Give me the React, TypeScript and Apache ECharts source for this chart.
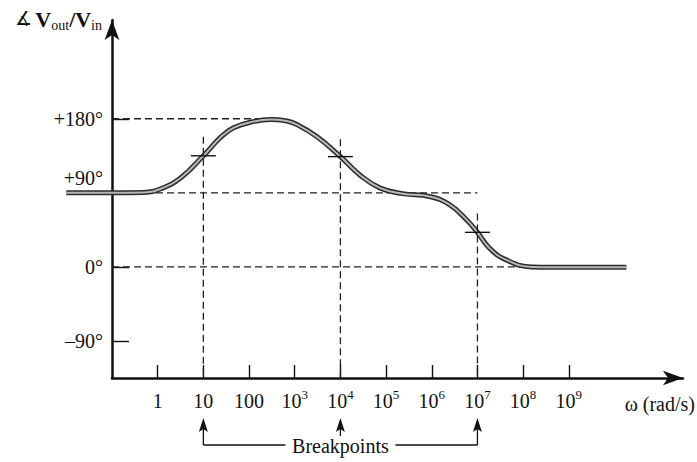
import React, { useEffect, useRef } from 'react';
import * as echarts from 'echarts';

// axis ranges (x = log10 of ω in rad/s, y = phase in degrees)
const X_MIN = -1;
const X_MAX = 11.5;
const Y_MIN = -135;
const Y_MAX = 300;

// phase curve
const phaseLog = [-2.0, -1.0, -0.3, 0.07, 0.5, 1.0, 1.37, 1.66, 2.09, 2.46, 2.8, 3.05, 3.49, 4.0, 4.42, 4.86, 5.36, 5.95, 6.38, 6.75, 7.0, 7.26, 7.63, 8.19, 9.0, 10.26];
const phaseDeg = [90, 90, 90.5, 95, 108, 135, 157, 169, 176.5, 179, 177.5, 173, 158, 134, 112, 96, 89, 85.5, 76, 58, 42, 23, 8.5, 0, -0.5, -0.5];

// x tick labels
const xTickLog = [0, 1, 2, 3, 4, 5, 6, 7, 8, 9];
const xTickBase = ['1', '10', '100', '10', '10', '10', '10', '10', '10', '10'];
const xTickExp = ['', '', '', '3', '4', '5', '6', '7', '8', '9'];

// y tick labels
const yTickDeg = [-90, 0, 90, 180];
const yTickText = ['–90°', '0°', '+90°', '+180°'];

// breakpoints
const bpLog = [1, 4, 7];
const bpCrossDeg = [135, 134, 42];
const bpGuideTopDeg = [158, 155, 65];

// horizontal dashed guides
const hGuideDeg = [180, 90, 0];
const hGuideEndLog = [2.5, 7, 8.5];

const SERIF = '"Liberation Serif", "Times New Roman", serif';
const INK = '#111';
const DASH = { stroke: '#222', lineWidth: 1.3, lineDash: [7, 4] };
const CURVE_OUTER = { color: '#2b2b2b', width: 5 };
const CURVE_INNER = { color: '#b8b8b8', width: 2 };

export default function App() {
  const ref = useRef<HTMLDivElement>(null);

  useEffect(() => {
    if (!ref.current) return;
    const chart = echarts.init(ref.current, null, { renderer: 'svg' });
    const all = phaseLog.map((l, i) => [l, phaseDeg[i]]);
    const inside = all.filter((p) => p[0] >= X_MIN);
    const outside = all.filter((p) => p[0] <= X_MIN);

    const lineSeries = (name: string, style: any, z: number) => ({
      type: 'line',
      name,
      data: inside,
      smooth: 0.45,
      showSymbol: false,
      clip: false,
      z,
      lineStyle: style,
    });

    const leftSeries = (name: string, style: any, z: number) => ({
      type: 'custom',
      name,
      clip: false,
      z,
      data: [0],
      renderItem: (params: any, api: any) => {
        const pts = outside.map((p) => api.coord(p));
        return {
          type: 'polyline',
          shape: { points: pts },
          style: { stroke: style.color, lineWidth: style.width, fill: 'none' },
        };
      },
    });

    const option: any = {
      animation: false,
      backgroundColor: '#ffffff',
      grid: { left: 112, right: 14, top: 20, bottom: 84, containLabel: false, outerBoundsMode: 'none' },
      xAxis: {
        type: 'value',
        min: X_MIN,
        max: X_MAX,
        splitLine: { show: false },
        axisLine: {
          onZero: false,
          lineStyle: { color: INK, width: 2.5 },
          symbol: ['none', 'arrow'],
          symbolSize: [11, 20],
        },
        axisTick: { customValues: xTickLog, inside: true, length: 13, lineStyle: { color: INK, width: 1.4 } },
        axisLabel: {
          customValues: xTickLog,
          margin: 11,
          color: INK,
          fontFamily: SERIF,
          fontSize: 20,
          formatter: (v: number) => {
            const i = xTickLog.indexOf(Math.round(v));
            if (i < 0) return '';
            return xTickExp[i] ? `{b|${xTickBase[i]}}{s|${xTickExp[i]}}` : `{b|${xTickBase[i]}}`;
          },
          rich: {
            b: { fontSize: 20, lineHeight: 22, verticalAlign: 'bottom', fontFamily: SERIF, color: INK },
            s: { fontSize: 13, lineHeight: 12, padding: [0, 0, 10, 0], verticalAlign: 'bottom', fontFamily: SERIF, color: INK },
          },
        },
        name: 'ω (rad/s)',
        nameLocation: 'end',
        nameGap: 12,
        nameMoveOverlap: false,
        nameTextStyle: { align: 'right', verticalAlign: 'top', padding: [16, 0, 0, 0], fontSize: 20, fontFamily: SERIF, color: INK, lineHeight: 20 },
      },
      yAxis: {
        type: 'value',
        min: Y_MIN,
        max: Y_MAX,
        splitLine: { show: false },
        axisLine: {
          onZero: false,
          lineStyle: { color: INK, width: 2.5 },
          symbol: ['none', 'arrow'],
          symbolSize: [11, 20],
        },
        axisTick: { customValues: yTickDeg, inside: true, length: 17, lineStyle: { color: INK, width: 1.4 } },
        axisLabel: {
          customValues: yTickDeg,
          margin: 9,
          color: INK,
          fontFamily: SERIF,
          fontSize: 20,
          formatter: (v: number) => {
            const i = yTickDeg.indexOf(Math.round(v));
            if (i < 0) return '';
            return yTickDeg[i] === 90 ? `{up|${yTickText[i]}}` : `{n|${yTickText[i]}}`;
          },
          rich: {
            n: { fontSize: 20, lineHeight: 22, fontFamily: SERIF, color: INK },
            up: { fontSize: 20, lineHeight: 22, padding: [0, 0, 30, 0], fontFamily: SERIF, color: INK },
          },
        },
        name: '{a|∡} {v|V}{s|out}{v|/V}{s|in}',
        nameLocation: 'end',
        nameGap: 0,
        nameMoveOverlap: false,
        nameTextStyle: {
          align: 'right',
          verticalAlign: 'middle',
          padding: [0, 10, 0, 0],
          color: INK,
          rich: {
            a: { fontSize: 19, lineHeight: 24, verticalAlign: 'top', fontFamily: '"DejaVu Serif", serif', color: INK },
            v: { fontSize: 22, fontWeight: 'bold', lineHeight: 24, verticalAlign: 'top', fontFamily: SERIF, color: INK },
            s: { fontSize: 14, lineHeight: 14, padding: [10, 0, 0, 0], verticalAlign: 'top', fontFamily: SERIF, color: INK },
          },
        },
      },
      series: [
        {
          type: 'custom',
          name: 'hguides',
          clip: false,
          z: 2,
          data: hGuideDeg.map((d, i) => [hGuideEndLog[i], d]),
          renderItem: (params: any, api: any) => {
            const end = api.coord([api.value(0), api.value(1)]);
            const start = api.coord([X_MIN, api.value(1)]);
            return {
              type: 'line',
              shape: { x1: start[0], y1: start[1], x2: end[0], y2: end[1] },
              style: DASH,
            };
          },
        },
        leftSeries('phase-left-outer', CURVE_OUTER, 3),
        lineSeries('phase-outer', CURVE_OUTER, 3),
        leftSeries('phase-left-inner', CURVE_INNER, 4),
        lineSeries('phase-inner', CURVE_INNER, 4),
        {
          type: 'custom',
          name: 'breakpoints',
          clip: false,
          z: 5,
          data: bpLog.map((l, i) => [l, bpCrossDeg[i], bpGuideTopDeg[i]]),
          renderItem: (params: any, api: any) => {
            const i = params.dataIndex;
            const log = api.value(0);
            const cross = api.coord([log, api.value(1)]);
            const x = cross[0];
            const crossY = cross[1];
            const topY = api.coord([log, api.value(2)])[1];
            const axisY = api.coord([log, Y_MIN])[1];
            const midX = api.coord([bpLog[1], 0])[0];
            const tipY = axisY + 40;
            const baseY = tipY + 14;
            const lineY = axisY + 67;
            const children: any[] = [
              { type: 'line', shape: { x1: x, y1: topY, x2: x, y2: axisY }, style: DASH },
              { type: 'line', shape: { x1: x - 12.5, y1: crossY, x2: x + 12.5, y2: crossY }, style: { stroke: INK, lineWidth: 1.4 } },
              {
                type: 'polygon',
                shape: { points: [[x, tipY], [x - 4.5, baseY], [x, baseY - 3], [x + 4.5, baseY]] },
                style: { fill: INK },
              },
              {
                type: 'line',
                shape: { x1: x, y1: baseY - 3, x2: x, y2: i === 1 ? axisY + 58 : lineY },
                style: { stroke: INK, lineWidth: 1.3 },
              },
            ];
            if (i === 0) {
              children.push({ type: 'line', shape: { x1: x, y1: lineY, x2: midX - 55, y2: lineY }, style: { stroke: INK, lineWidth: 1.3 } });
            }
            if (i === 2) {
              children.push({ type: 'line', shape: { x1: midX + 55, y1: lineY, x2: x, y2: lineY }, style: { stroke: INK, lineWidth: 1.3 } });
            }
            if (i === 1) {
              children.push({
                type: 'text',
                x: x,
                y: lineY + 1,
                style: { text: 'Breakpoints', fontSize: 20, fontFamily: SERIF, fill: INK, align: 'center', verticalAlign: 'middle' },
              });
            }
            return { type: 'group', children };
          },
        },
      ],
    };

    chart.setOption(option);
    return () => chart.dispose();
  }, []);

  return (
    <div
      ref={ref}
      style={{ position: 'fixed', left: 0, top: 0, width: 697, height: 462, background: '#fff' }}
    />
  );
}
